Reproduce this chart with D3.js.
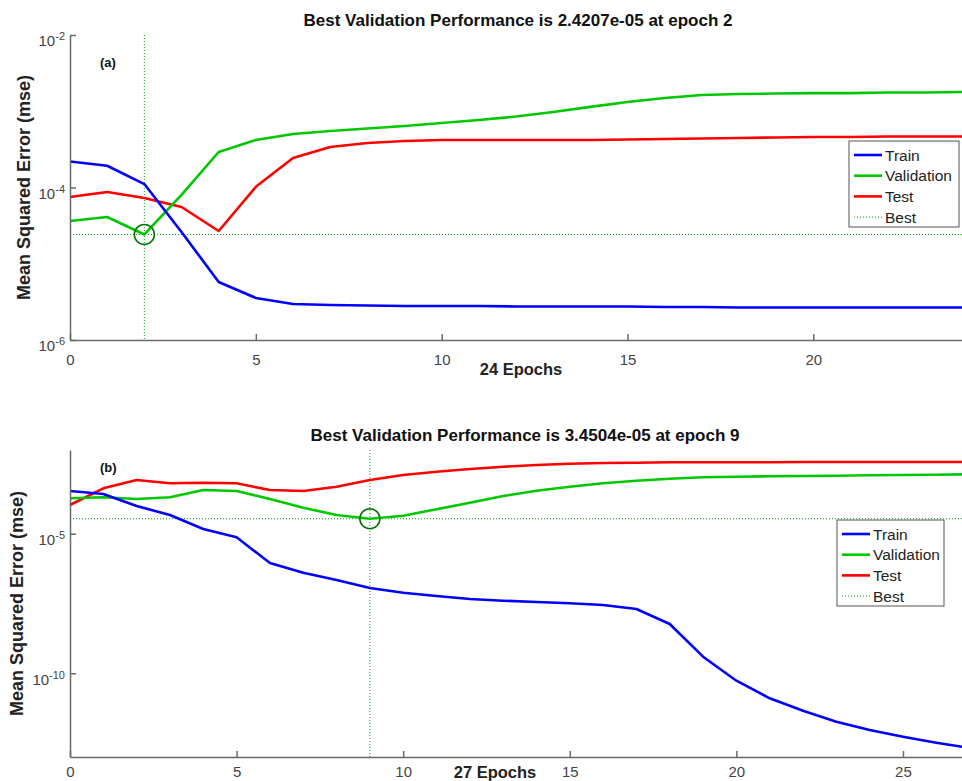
<!DOCTYPE html>
<html>
<head>
<meta charset="utf-8">
<script src="https://cdn.jsdelivr.net/npm/d3@7"></script>
<style>
  html, body { margin: 0; padding: 0; background: #fff; }
  svg { display: block; font-family: "Liberation Sans", Arial, Helvetica, sans-serif; }
</style>
</head>
<body>
<svg id="chart" width="962" height="781"></svg>
<script>
// ---------- Data ----------
const titleA = "Best Validation Performance is 2.4207e-05 at epoch 2";
const titleB = "Best Validation Performance is 3.4504e-05 at epoch 9";
const xLabelA = "24 Epochs";
const xLabelB = "27 Epochs";
const yLabel = "Mean Squared Error  (mse)";
const seriesNames = ["Train", "Validation", "Test", "Best"];

const trainA = [2.19e-4, 1.93e-4, 1.11e-4, 2.61e-5, 5.76e-6, 3.56e-6, 2.97e-6, 2.88e-6, 2.83e-6, 2.79e-6, 2.79e-6, 2.79e-6, 2.75e-6, 2.75e-6, 2.75e-6, 2.75e-6, 2.71e-6, 2.71e-6, 2.67e-6, 2.67e-6, 2.67e-6, 2.67e-6, 2.67e-6, 2.67e-6, 2.67e-6];
const valA = [3.64e-5, 4.10e-5, 2.4207e-5, 7.98e-5, 2.92e-4, 4.20e-4, 5.03e-4, 5.51e-4, 5.94e-4, 6.41e-4, 7.02e-4, 7.68e-4, 8.53e-4, 9.77e-4, 1.14e-3, 1.32e-3, 1.49e-3, 1.63e-3, 1.68e-3, 1.71e-3, 1.73e-3, 1.73e-3, 1.76e-3, 1.76e-3, 1.79e-3];
const testA = [7.50e-5, 8.72e-5, 7.28e-5, 5.55e-5, 2.69e-5, 1.02e-4, 2.44e-4, 3.40e-4, 3.83e-4, 4.07e-4, 4.20e-4, 4.20e-4, 4.20e-4, 4.20e-4, 4.20e-4, 4.26e-4, 4.33e-4, 4.39e-4, 4.46e-4, 4.53e-4, 4.60e-4, 4.60e-4, 4.67e-4, 4.67e-4, 4.67e-4];
const bestEpochA = 2, bestValueA = 2.4207e-5;

const trainB = [3.40e-4, 2.65e-4, 9.84e-5, 4.69e-5, 1.47e-5, 7.45e-6, 8.93e-7, 4.01e-7, 2.20e-7, 1.13e-7, 7.71e-8, 5.88e-8, 4.58e-8, 3.98e-8, 3.58e-8, 3.21e-8, 2.79e-8, 2.01e-8, 5.82e-9, 3.93e-10, 5.42e-11, 1.27e-11, 4.56e-12, 1.84e-12, 9.27e-13, 5.33e-13, 3.25e-13, 2.10e-13];
const valB = [1.86e-4, 2.02e-4, 1.75e-4, 2.02e-4, 3.68e-4, 3.40e-4, 1.75e-4, 8.55e-5, 4.69e-5, 3.4504e-5, 4.43e-5, 7.50e-5, 1.29e-4, 2.24e-4, 3.48e-4, 4.84e-4, 6.40e-4, 7.94e-4, 9.35e-4, 1.05e-3, 1.10e-3, 1.14e-3, 1.17e-3, 1.20e-3, 1.24e-3, 1.27e-3, 1.30e-3, 1.35e-3];
const testB = [1.07e-4, 4.24e-4, 8.41e-4, 6.40e-4, 6.73e-4, 6.40e-4, 3.68e-4, 3.40e-4, 4.84e-4, 8.41e-4, 1.27e-3, 1.67e-3, 2.08e-3, 2.52e-3, 2.90e-3, 3.23e-3, 3.42e-3, 3.51e-3, 3.62e-3, 3.62e-3, 3.62e-3, 3.62e-3, 3.72e-3, 3.72e-3, 3.72e-3, 3.72e-3, 3.72e-3, 3.72e-3];
const bestEpochB = 9, bestValueB = 3.4504e-5;

const xTicksA = [0, 5, 10, 15, 20];
const xTicksB = [0, 5, 10, 15, 20, 25];
const yTicksA = [-2, -4, -6];   // exponents of 10
const yTicksB = [-5, -10];

// ---------- Styles ----------
const colors = { train: "#0000ff", val: "#00c800", test: "#ff0000", best: "#00a000", circle: "#007000" };
const axisColor = "#6a6a6a";
const tickTextColor = "#444";

const svg = d3.select("#chart");

function drawPanel(cfg) {
  const g = svg.append("g");
  const x = d3.scaleLinear().domain([0, cfg.maxEpoch]).range([cfg.left, cfg.right]);
  const y = d3.scaleLog().domain(cfg.yDomain).range([cfg.bottom, cfg.top]);

  // best lines
  g.append("line")
    .attr("x1", x(cfg.bestEpoch)).attr("x2", x(cfg.bestEpoch))
    .attr("y1", cfg.top).attr("y2", cfg.bottom)
    .attr("stroke", colors.best).attr("stroke-width", 1).attr("stroke-dasharray", "1,2");
  g.append("line")
    .attr("x1", cfg.left).attr("x2", cfg.right)
    .attr("y1", y(cfg.bestValue)).attr("y2", y(cfg.bestValue))
    .attr("stroke", colors.best).attr("stroke-width", 1).attr("stroke-dasharray", "1,2");

  const line = d3.line().x((d, i) => x(i)).y(d => y(d));
  [[cfg.test, colors.test], [cfg.val, colors.val], [cfg.train, colors.train]].forEach(([data, c]) => {
    g.append("path").datum(data).attr("d", line)
      .attr("fill", "none").attr("stroke", c).attr("stroke-width", 2.6)
      .attr("stroke-linejoin", "round");
  });

  g.append("circle")
    .attr("cx", x(cfg.bestEpoch)).attr("cy", y(cfg.bestValue)).attr("r", 10)
    .attr("fill", "none").attr("stroke", colors.circle).attr("stroke-width", 1.5);

  // axes
  const xAxis = d3.axisBottom(x).tickValues(cfg.xTicks).tickFormat(d3.format("d"))
    .tickSizeInner(-6).tickSizeOuter(0).tickPadding(0);
  const xg = g.append("g").attr("transform", `translate(0,${cfg.bottom})`).call(xAxis);
  xg.select(".domain").attr("stroke", axisColor).attr("stroke-width", 1.5);
  xg.selectAll(".tick line").attr("stroke", axisColor).attr("stroke-width", 1.5);
  xg.selectAll(".tick text").attr("fill", tickTextColor).attr("font-size", 15)
    .attr("y", cfg.xTickBaseline).attr("dy", null);

  const yAxis = d3.axisLeft(y).tickValues(cfg.yTicks.map(e => Math.pow(10, e)))
    .tickSizeInner(-6).tickSizeOuter(0).tickPadding(5).tickFormat(() => "");
  const yg = g.append("g").attr("transform", `translate(${cfg.left},0)`).call(yAxis);
  yg.select(".domain").attr("stroke", axisColor).attr("stroke-width", 1.5);
  yg.selectAll(".tick line").attr("stroke", axisColor).attr("stroke-width", 1.5);
  yg.selectAll(".tick text").each(function(d) {
    const t = d3.select(this).attr("fill", tickTextColor).attr("font-size", 15).attr("dy", "0.72em");
    t.append("tspan").text("10");
    t.append("tspan").attr("font-size", 11).attr("dy", "-0.55em").text(String(Math.round(Math.log10(d))));
  });

  // title
  svg.append("text").attr("x", cfg.titleX).attr("y", cfg.titleY)
    .attr("text-anchor", "middle").attr("font-weight", "bold").attr("font-size", 17)
    .attr("fill", "#111").text(cfg.title);
  // panel label
  svg.append("text").attr("x", cfg.left + 30).attr("y", cfg.labelY)
    .attr("font-weight", "bold").attr("font-size", 13).attr("fill", "#111").text(cfg.panelLabel);
  // x label
  svg.append("text").attr("x", cfg.xLabelX).attr("y", cfg.xLabelY)
    .attr("text-anchor", "middle").attr("font-weight", "bold").attr("font-size", 16.5)
    .attr("fill", "#222").text(cfg.xLabel);
  // y label
  const cy = (cfg.top + cfg.bottom) / 2;
  svg.append("text").attr("transform", `translate(${cfg.yLabelX},${cy}) rotate(-90)`)
    .attr("text-anchor", "middle").attr("font-weight", "bold").attr("font-size", 18)
    .attr("fill", "#222").text(yLabel);

  // legend
  const lg = svg.append("g").attr("transform", `translate(${cfg.legX},${cfg.legY})`);
  lg.append("rect").attr("width", cfg.legW).attr("height", 86)
    .attr("fill", "#fff").attr("stroke", "#555").attr("stroke-width", 1);
  const legColors = [colors.train, colors.val, colors.test, colors.best];
  seriesNames.forEach((n, i) => {
    const yy = 14 + i * 20.7;
    lg.append("line").attr("x1", 5).attr("x2", 33).attr("y1", yy).attr("y2", yy)
      .attr("stroke", legColors[i])
      .attr("stroke-width", i === 3 ? 1 : 2.6)
      .attr("stroke-dasharray", i === 3 ? "1,2" : null);
    lg.append("text").attr("x", 36).attr("y", yy).attr("dy", "0.36em")
      .attr("font-size", 15.5).attr("fill", "#222").text(n);
  });
}

drawPanel({
  left: 70, right: 962, top: 35, bottom: 340, maxEpoch: 24, yDomain: [1e-6, 1e-2],
  train: trainA, val: valA, test: testA, bestEpoch: bestEpochA, bestValue: bestValueA,
  xTicks: xTicksA, yTicks: yTicksA, title: titleA, titleX: 518, titleY: 26,
  panelLabel: "(a)", labelY: 67, xLabel: xLabelA, xLabelX: 521, xLabelY: 375,
  xTickBaseline: 25, yLabelX: 30,
  legX: 849, legY: 141, legW: 110
});

drawPanel({
  left: 70, right: 969.6, top: 450, bottom: 757, maxEpoch: 27, yDomain: [1e-13, 1e-2],
  train: trainB, val: valB, test: testB, bestEpoch: bestEpochB, bestValue: bestValueB,
  xTicks: xTicksB, yTicks: yTicksB, title: titleB, titleX: 525, titleY: 441,
  panelLabel: "(b)", labelY: 472, xLabel: xLabelB, xLabelX: 495, xLabelY: 778,
  xTickBaseline: 20, yLabelX: 23,
  legX: 837, legY: 520, legW: 107
});
</script>
</body>
</html>
